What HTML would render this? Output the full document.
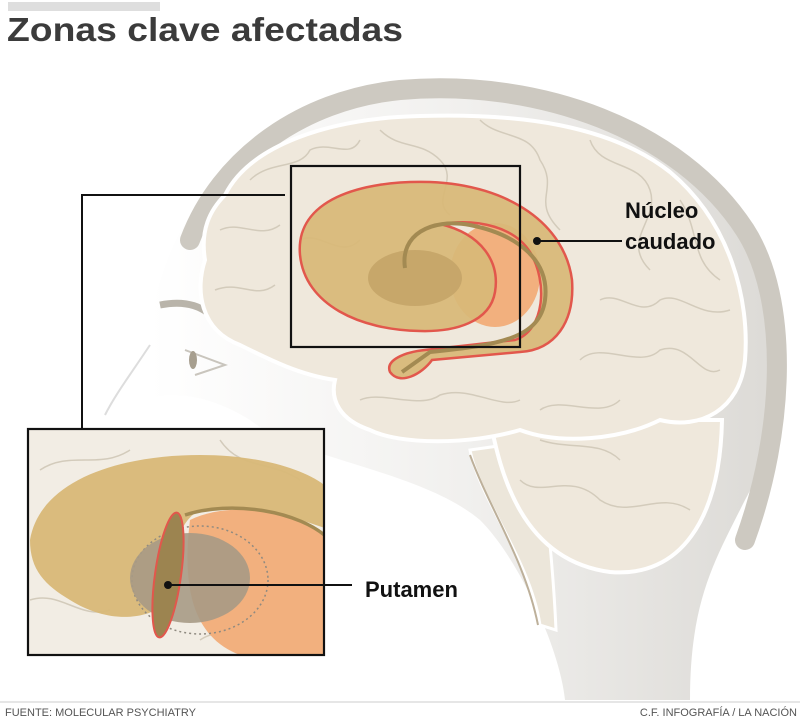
<!DOCTYPE html>
<html><head><meta charset="utf-8"><style>
html,body{margin:0;padding:0;background:#fff;}
svg{display:block;font-family:"Liberation Sans",sans-serif;}
</style></head><body>
<svg width="800" height="723" viewBox="0 0 800 723" xmlns="http://www.w3.org/2000/svg">
<defs>
<linearGradient id="hg" x1="0" y1="0" x2="1" y2="0">
<stop offset="0" stop-color="#ffffff"/><stop offset="0.5" stop-color="#f1f0ee"/><stop offset="1" stop-color="#dcdad6"/>
</linearGradient>
<clipPath id="ic"><rect x="28" y="429" width="296" height="226"/></clipPath>
</defs>
<rect x="8" y="2" width="152" height="9" fill="#dedede"/>
<text x="7" y="41" font-size="33" font-weight="bold" fill="#3b3b3b" textLength="396" lengthAdjust="spacingAndGlyphs">Zonas clave afectadas</text>

<!-- head silhouette -->
<path d="M150,330 C160,230 230,130 360,105 C500,80 640,110 720,200 C790,290 790,420 745,500 C715,560 690,600 690,700 L565,700 C560,650 520,560 480,520 C420,470 300,460 250,420 C210,395 170,390 150,400 Z" fill="url(#hg)"/>
<path d="M190,240 C220,160 300,100 400,90 C540,78 680,130 745,230 C790,300 785,430 745,540" fill="none" stroke="#cdc9c1" stroke-width="20" stroke-linecap="round"/>
<!-- face lines -->
<path d="M160,305 C185,300 205,305 220,325" fill="none" stroke="#b9b4aa" stroke-width="7"/>
<path d="M185,350 L225,365 L195,375" fill="none" stroke="#c9c5bd" stroke-width="2"/>
<ellipse cx="193" cy="360" rx="4" ry="9" fill="#a79f8f"/>
<path d="M150,345 C130,375 115,395 105,415" fill="none" stroke="#ddd" stroke-width="2"/>

<!-- brainstem -->
<path d="M470,450 C480,500 530,560 540,625 L556,630 C553,560 545,500 540,440 Z" fill="#ece6da" stroke="#fff" stroke-width="3"/>
<path d="M470,455 C490,510 525,560 538,625" fill="none" stroke="#bdb09a" stroke-width="2"/>
<!-- cerebellum -->
<path d="M490,420 C500,470 520,560 610,572 C680,578 720,520 722,420 Z" fill="#efe8dc" stroke="#fff" stroke-width="4"/>
<!-- brain -->
<path d="M225,195 C250,145 330,118 420,116 C520,113 610,125 670,172 C730,222 750,300 745,360 C740,410 700,430 660,420 C620,440 560,445 520,430 C470,445 400,445 370,430 C340,420 330,400 335,380 C300,375 270,360 240,345 C200,330 195,290 205,260 C200,230 210,210 225,195 Z" fill="#efe8dc" stroke="#fff" stroke-width="4"/>
<g fill="none" stroke="#d3cbbb" stroke-width="1.5">
<path d="M250,180 C270,160 300,170 310,150 C330,140 350,160 360,140"/>
<path d="M380,130 C400,150 420,140 440,160 C460,180 430,200 450,215"/>
<path d="M480,120 C500,140 530,130 540,160 C560,190 530,200 560,230"/>
<path d="M590,140 C600,170 640,160 650,190 C660,220 620,240 650,270"/>
<path d="M680,200 C700,230 690,260 720,280"/>
<path d="M220,230 C240,220 260,240 280,225"/>
<path d="M215,290 C240,280 255,300 275,285"/>
<path d="M600,300 C620,290 640,320 660,300 C680,290 700,320 730,310"/>
<path d="M580,360 C600,340 640,370 660,350 C690,340 700,380 720,370"/>
<path d="M360,400 C380,390 420,410 440,395 C470,385 500,410 520,400"/>
<path d="M540,410 C560,395 600,420 620,400"/>
<path d="M520,480 C540,500 570,470 600,500 C630,520 660,490 690,510"/>
<path d="M540,440 C570,450 600,440 620,460"/>
<path d="M300,240 C320,230 340,260 360,240"/>
</g>

<!-- caudate -->
<ellipse cx="495" cy="275" rx="45" ry="52" fill="#f2b07e"/>
<path d="M300,255 C295,200 360,180 430,182 C510,185 565,225 572,280 C575,322 555,350 520,352 L432,360 C422,374 400,386 390,372 C385,360 405,352 425,350 L515,340 C545,330 548,282 530,252 C515,228 480,218 440,224 C482,234 500,262 495,292 C490,322 455,332 420,331 C360,330 305,305 300,255 Z" fill="#d8b877" fill-opacity="0.93" stroke="#e2574c" stroke-width="2.5"/>
<ellipse cx="415" cy="278" rx="47" ry="28" fill="#c4a468" opacity="0.9"/>
<path d="M405,268 C400,235 430,218 470,225 C520,235 550,262 545,300 C540,338 500,345 430,352 L402,372" fill="none" stroke="#a38a52" stroke-width="4"/>

<!-- boxes & connectors -->
<rect x="291" y="166" width="229" height="181" fill="none" stroke="#111" stroke-width="2.2"/>
<polyline points="285,195 82,195 82,428" fill="none" stroke="#111" stroke-width="2"/>
<circle cx="537" cy="241" r="4" fill="#111"/>
<line x1="537" y1="241" x2="622" y2="241" stroke="#111" stroke-width="2"/>
<text x="625" y="218" font-size="22" font-weight="bold" fill="#111">Núcleo</text>
<text x="625" y="249" font-size="22" font-weight="bold" fill="#111">caudado</text>

<!-- inset -->
<rect x="28" y="429" width="296" height="226" fill="#f2ede4"/>
<g clip-path="url(#ic)">
<g fill="none" stroke="#d3cbbb" stroke-width="1.5">
<path d="M40,470 C70,450 100,470 130,450"/><path d="M220,440 C240,470 270,460 300,480"/>
<path d="M30,600 C60,590 80,620 110,610"/><path d="M200,640 C230,620 260,650 300,630"/>
</g>
<path d="M30,540 C40,480 120,455 200,455 C260,455 310,470 330,490 L330,530 C290,515 250,505 200,510 C180,520 170,550 170,600 C150,620 110,625 70,600 C45,585 30,570 30,540 Z" fill="#d8b877" fill-opacity="0.95"/>
<path d="M190,520 C230,500 300,510 330,540 L330,655 L240,655 C200,640 180,600 190,520 Z" fill="#f2b07e"/>
<ellipse cx="200" cy="580" rx="68" ry="54" fill="none" stroke="#8f8a80" stroke-width="1.5" stroke-dasharray="2,3"/>
<ellipse cx="190" cy="578" rx="60" ry="45" fill="#a79a85" fill-opacity="0.9"/>
<path d="M185,515 C230,500 300,510 330,540" fill="none" stroke="#a38a52" stroke-width="3.5"/>
<ellipse cx="168" cy="575" rx="13" ry="63" transform="rotate(8 168 575)" fill="#9c8450" stroke="#e2574c" stroke-width="2"/>
</g>
<rect x="28" y="429" width="296" height="226" fill="none" stroke="#111" stroke-width="2.2"/>
<circle cx="168" cy="585" r="4" fill="#111"/>
<line x1="168" y1="585" x2="352" y2="585" stroke="#111" stroke-width="2"/>
<text x="365" y="597" font-size="22" font-weight="bold" fill="#111">Putamen</text>

<!-- footer -->
<line x1="0" y1="702" x2="800" y2="702" stroke="#ddd" stroke-width="1.5"/>
<text x="5" y="716" font-size="11" fill="#555">FUENTE: MOLECULAR PSYCHIATRY</text>
<text x="797" y="716" font-size="11" fill="#555" text-anchor="end">C.F. INFOGRAFÍA / LA NACIÓN</text>
</svg>
</body></html>
